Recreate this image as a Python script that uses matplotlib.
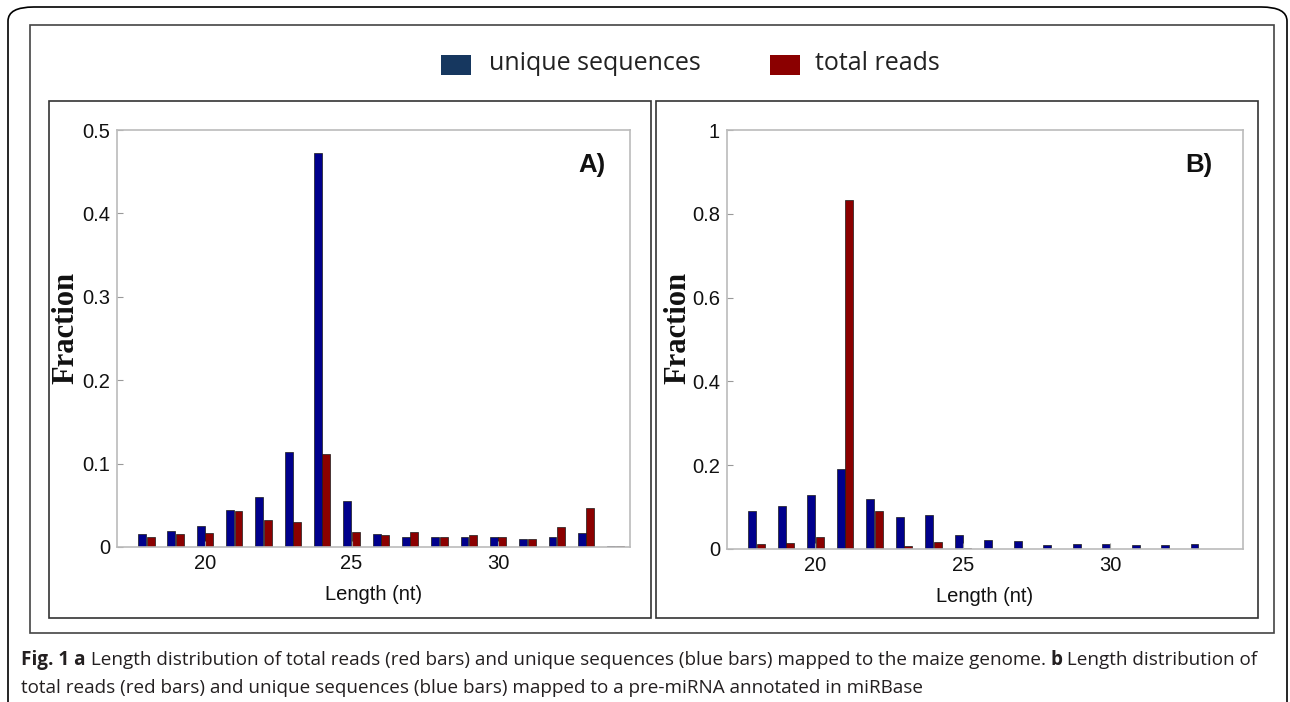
import matplotlib
matplotlib.use("Agg")
import matplotlib.pyplot as plt
from matplotlib.patches import Rectangle, FancyBboxPatch
import numpy as np

W, H = 1290, 702

lengths = list(range(18, 35))
a_unique = [0.016, 0.019, 0.025, 0.044, 0.060, 0.114, 0.472, 0.055, 0.015, 0.012,
            0.012, 0.012, 0.012, 0.010, 0.012, 0.017, 0.001]
a_total = [0.012, 0.015, 0.017, 0.043, 0.032, 0.030, 0.112, 0.018, 0.014, 0.018,
           0.012, 0.014, 0.012, 0.010, 0.024, 0.047, 0.001]
b_unique = [0.090, 0.103, 0.129, 0.190, 0.119, 0.077, 0.081, 0.033, 0.021, 0.018,
            0.009, 0.013, 0.013, 0.009, 0.009, 0.013, 0.001]
b_total = [0.012, 0.015, 0.029, 0.833, 0.090, 0.006, 0.016, 0.002, 0.001, 0.001,
           0.001, 0.001, 0.001, 0.001, 0.001, 0.001, 0.001]

a_yticks = [0, 0.1, 0.2, 0.3, 0.4, 0.5]
a_yticklabels = ["0", "0.1", "0.2", "0.3", "0.4", "0.5"]
b_yticks = [0, 0.2, 0.4, 0.6, 0.8, 1.0]
b_yticklabels = ["0", "0.2", "0.4", "0.6", "0.8", "1"]
xticks = [20, 25, 30]
legend_labels = ["unique sequences", "total reads"]
panel_labels = ["A)", "B)"]

BLUE = "#00008c"
RED = "#8b0000"

fig = plt.figure(figsize=(W / 100, H / 100), dpi=100)
fig.patch.set_facecolor("white")


def fx(x):
    return x / W


def fy(y):
    return 1 - y / H


def box(x0, y0, x1, y1, color, lw):
    fig.add_artist(Rectangle((fx(x0), fy(y1)), fx(x1) - fx(x0), fy(y0) - fy(y1),
                             transform=fig.transFigure, fill=False,
                             edgecolor=color, linewidth=lw))


# outer rounded frame
fig.add_artist(FancyBboxPatch((fx(8), fy(720)), fx(1287) - fx(8), fy(7) - fy(720),
                              boxstyle="round,pad=0,rounding_size=0.02",
                              transform=fig.transFigure, fill=False,
                              edgecolor="black", linewidth=1.2))
box(30, 25, 1274, 633, "#444444", 1.2)
box(49, 101, 651, 618, "#333333", 1.2)
box(656, 101, 1258, 618, "#333333", 1.2)


def make_axes(x0, y0, x1, y1):
    return fig.add_axes([fx(x0), fy(y1), fx(x1) - fx(x0), fy(y0) - fy(y1)])


axA = make_axes(117, 130, 630, 547)
axB = make_axes(727, 130, 1243, 549)

x = np.array(lengths)
bw = 0.27
off = 0.145
for ax, uq, tr, yt, ytl, ymax, lab, lx in [
    (axA, a_unique, a_total, a_yticks, a_yticklabels, 0.5, panel_labels[0], 0.953),
    (axB, b_unique, b_total, b_yticks, b_yticklabels, 1.0, panel_labels[1], 0.940),
]:
    ax.bar(x - off, uq, width=bw, color=BLUE, edgecolor="#1a1a1a", linewidth=0.5)
    ax.bar(x + off, tr, width=bw, color=RED, edgecolor="#1a1a1a", linewidth=0.5)
    ax.set_xlim(17, 34.5)
    ax.set_ylim(0, ymax)
    ax.set_yticks(yt)
    ax.set_yticklabels(ytl)
    ax.set_xticks(xticks)
    for s in ax.spines.values():
        s.set_color("#bbbbbb")
        s.set_linewidth(1.2)
    ax.tick_params(direction="in", length=4, color="#999999",
                   labelsize=14.5, pad=5)
    for t in ax.get_xticklabels() + ax.get_yticklabels():
        t.set_family("Liberation Sans")
        t.set_color("#111111")
    ax.set_xlabel("Length (nt)", family="Liberation Sans", fontsize=14.5,
                  labelpad=9, color="#111111")
    ax.text(lx, 0.916, lab, transform=ax.transAxes, ha="right", va="center",
            fontsize=18.5, fontweight="bold", family="Liberation Sans", color="#111111")

fig.text(fx(66), fy(328), "Fraction", rotation=90, ha="center", va="center",
         family="Liberation Serif", fontweight="bold", fontsize=22, color="#111111")
fig.text(fx(678), fy(328), "Fraction", rotation=90, ha="center", va="center",
         family="Liberation Serif", fontweight="bold", fontsize=22, color="#111111")

# legend
fig.add_artist(Rectangle((fx(441), fy(75)), fx(30), 20 / H, transform=fig.transFigure,
                         facecolor="#16375f", edgecolor="none"))
fig.text(fx(489), fy(63), legend_labels[0], ha="left", va="center",
         family="Open Sans", fontsize=18, color="#222222")
fig.add_artist(Rectangle((fx(770), fy(75)), fx(30), 20 / H, transform=fig.transFigure,
                         facecolor="#8b0000", edgecolor="none"))
fig.text(fx(815), fy(63), legend_labels[1], ha="left", va="center",
         family="Open Sans", fontsize=18, color="#222222")

# caption with mixed weights
renderer = fig.canvas.get_renderer()


def seq_text(x_px, y_px, pieces, size=13.6):
    cur = x_px
    for txt, bold in pieces:
        t = fig.text(fx(cur), fy(y_px), txt, ha="left", va="center",
                     family="Open Sans", fontsize=size,
                     fontweight="bold" if bold else "normal", color="#231f20")
        bb = t.get_window_extent(renderer=renderer)
        cur += bb.width


seq_text(21, 660, [("Fig. 1 a", True),
                   (" Length distribution of total reads (red bars) and unique sequences (blue bars) mapped to the maize genome. ", False),
                   ("b", True),
                   (" Length distribution of", False)])
seq_text(21, 688, [("total reads (red bars) and unique sequences (blue bars) mapped to a pre-miRNA annotated in miRBase", False)])

fig.savefig("out.png", dpi=100)
